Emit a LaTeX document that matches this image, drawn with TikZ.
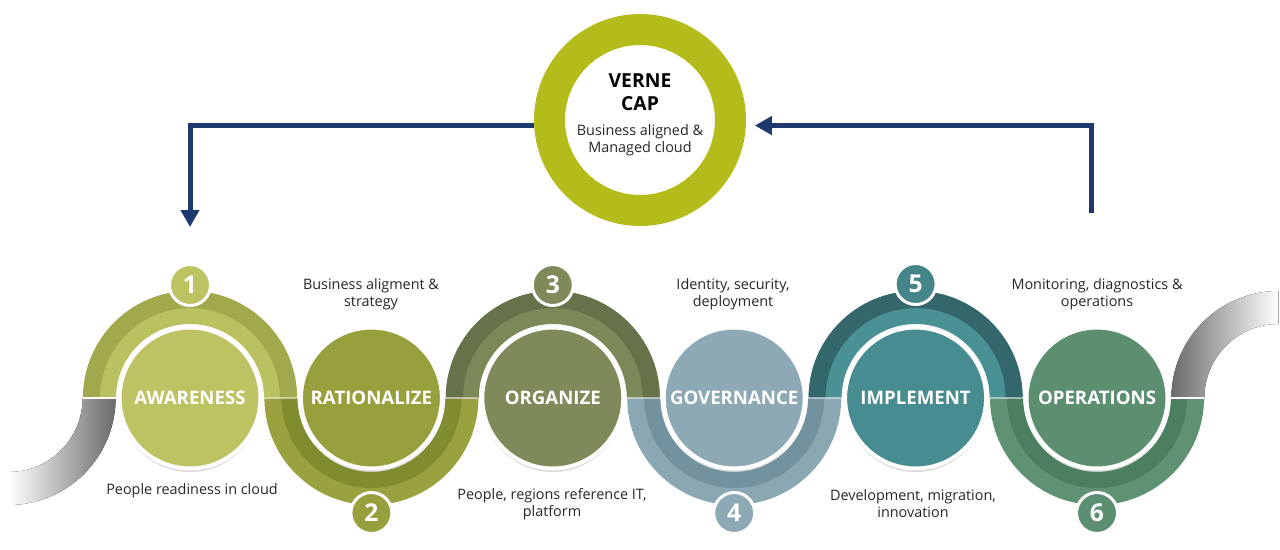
\documentclass[tikz,border=0pt]{standalone}
\usepackage{fontspec}
\setmainfont{Open Sans}
\usepackage{xcolor}
\usepackage{tikz}
\usetikzlibrary{arrows.meta,positioning,shadows}

\definecolor{awlight}{HTML}{BAC160}
\definecolor{awdark}{HTML}{A1A94C}
\definecolor{awfill}{HTML}{BDC363}
\definecolor{ralight}{HTML}{9AA23F}
\definecolor{radark}{HTML}{808C2F}
\definecolor{rafill}{HTML}{98A03D}
\definecolor{orlight}{HTML}{7B8857}
\definecolor{ordark}{HTML}{66724A}
\definecolor{orfill}{HTML}{7E8A5A}
\definecolor{golight}{HTML}{8AA8B4}
\definecolor{godark}{HTML}{7292A0}
\definecolor{gofill}{HTML}{8CA9B5}
\definecolor{imlight}{HTML}{4A9196}
\definecolor{imdark}{HTML}{34676B}
\definecolor{imfill}{HTML}{468C90}
\definecolor{oplight}{HTML}{5E9272}
\definecolor{opdark}{HTML}{4C7F5F}
\definecolor{opfill}{HTML}{5B8F70}
\definecolor{capgreen}{HTML}{B4BC1C}
\definecolor{flowblue}{HTML}{1F386E}

% ribbon pieces: centre x, band colour, stripe colour
\newcommand{\uparc}[3]{%
  \fill[#2] (#1-107,151) arc[start angle=180,end angle=0,radius=107] -- (#1+74,151) arc[start angle=0,end angle=180,radius=74] -- cycle;
  \fill[#3] (#1-107,151) arc[start angle=180,end angle=0,radius=107] -- (#1+90,151) arc[start angle=0,end angle=180,radius=90] -- cycle;}
\newcommand{\downarc}[3]{%
  \fill[#2] (#1-107,151) arc[start angle=180,end angle=360,radius=107] -- (#1+74,151) arc[start angle=360,end angle=180,radius=74] -- cycle;
  \fill[#3] (#1-90,151) arc[start angle=180,end angle=360,radius=90] -- (#1+74,151) arc[start angle=360,end angle=180,radius=74] -- cycle;}

\begin{document}
\begin{tikzpicture}[x=0.02cm, y=0.02cm,
  stage/.style={circle, draw=white, line width=0.08cm, minimum size=2.82cm, inner sep=0pt, text=white, font=\bfseries\fontsize{10.6}{12}\selectfont, drop shadow={shadow xshift=0pt, shadow yshift=-0.07cm, opacity=0.3}},
  badge/.style={circle, draw=white, line width=0.06cm, minimum size=0.82cm, inner sep=0pt, text=white, font=\bfseries\fontsize{14}{16}\selectfont},
  caption/.style={align=center, font=\fontsize{8.2}{9.6}\selectfont, text=black!85},
  capring/.style={circle, draw=capgreen, line width=0.62cm, minimum size=3.62cm, inner sep=0pt, outer sep=0.31cm},
  flow/.style={draw=flowblue, line width=0.1cm, -{Triangle[width=0.36cm, length=0.34cm]}}]
\useasboundingbox (0,0) rectangle (1280,549);

% grey tails
\fill[left color=white, right color=black!58] (8.6,44) arc[start angle=270,end angle=360,radius=107] -- (82.6,151) arc[start angle=0,end angle=-90,radius=74] -- cycle;
\fill[left color=black!58, right color=white] (1171.4,151) arc[start angle=180,end angle=90,radius=107] -- (1278.4,225) arc[start angle=90,end angle=180,radius=74] -- cycle;

% ribbon
\uparc{190}{awlight}{awdark}
\downarc{371.4}{ralight}{radark}
\uparc{552.8}{orlight}{ordark}
\downarc{734.2}{golight}{godark}
\uparc{915.6}{imlight}{imdark}
\downarc{1097}{oplight}{opdark}
\draw[white, line width=1.2pt] (82.6,151) -- (115.6,151);
\draw[white, line width=1.2pt] (1171,151) -- (1204.4,151);
\draw[white, opacity=0.5, line width=0.6pt] (264,151) -- (297,151) (445.4,151) -- (478.4,151) (626.8,151) -- (659.8,151) (808.2,151) -- (841.2,151) (989.6,151) -- (1022.6,151);

% stages
\node[stage, fill=awfill] (aware) at (190,151) {AWARENESS};
\node[stage, fill=rafill] (ratio) at (371.4,151) {RATIONALIZE};
\node[stage, fill=orfill] (organ) at (552.8,151) {ORGANIZE};
\node[stage, fill=gofill] (gover) at (734.2,151) {GOVERNANCE};
\node[stage, fill=imfill] (implm) at (915.6,151) {IMPLEMENT};
\node[stage, fill=opfill] (opera) at (1097,151) {OPERATIONS};

\node[badge, fill=awfill] (n1) at (190,264) {1};
\node[badge, fill=rafill] (n2) at (371.4,36) {2};
\node[badge, fill=orfill] (n3) at (552.8,264) {3};
\node[badge, fill=gofill] (n4) at (734.2,36) {4};
\node[badge, fill=imfill!95!black] (n5) at (915.6,265) {5};
\node[badge, fill=opfill] (n6) at (1097,36) {6};

\node[caption] (c1) at (192,58) {People readiness in cloud};
\node[caption] (c2) at (371,255) {Business aligment \&\\strategy};
\node[caption] (c3) at (552,45) {People, regions reference IT,\\platform};
\node[caption] (c4) at (733,255) {Identity, security,\\deployment};
\node[caption] (c5) at (913,45) {Development, migration,\\innovation};
\node[caption] (c6) at (1097,255) {Monitoring, diagnostics \&\\operations};

% VERNE CAP
\node[capring] (cap) at (640,429) {};
\node[align=center, font=\bfseries\fontsize{11}{13}\selectfont] (capname) at (640,457) {VERNE\\CAP};
\node[caption, below=1pt of capname] (captext) {Business aligned \&\\Managed cloud};

\coordinate (opstart) at (1091,336);
\draw[flow, shorten >=0.72cm] (cap.183) -| (n1);
\draw[flow, shorten >=0.18cm] (opstart) |- (cap.357);
\end{tikzpicture}
\end{document}
